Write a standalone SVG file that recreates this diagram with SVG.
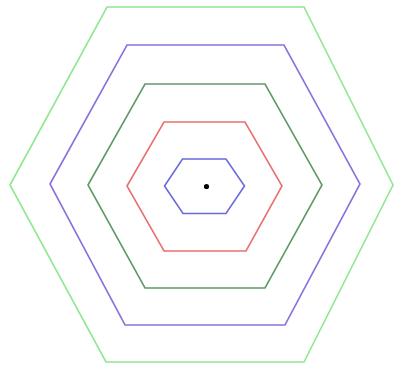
<svg xmlns="http://www.w3.org/2000/svg" width="396" height="372" viewBox="0 0 396 372">
<style>
.h{fill:none;stroke-width:1.6;stroke-linejoin:miter}
</style>
<rect width="396" height="372" fill="#ffffff"/>
<g id="hex5"><polygon class="h" stroke="#8ee88e" points="10,185 107,7 304,7 393,185 304,362 106,362"/></g>
<g id="hex4"><polygon class="h" stroke="#8c70dc" points="50,184 127,45 284,45 360,184 285,325 125,325"/></g>
<g id="hex3"><polygon class="h" stroke="#5e9a66" points="88,185 145,84 265,84 322,185 265,288 145,288"/></g>
<g id="hex2"><polygon class="h" stroke="#e87070" points="127,186 164,122 245,122 282,186 246,251 164,251"/></g>
<g id="hex1"><polygon class="h" stroke="#6a6adc" points="164.5,186 182.5,159 226,159 244.5,186 226,213.5 183,213.5"/></g>
<g id="center"><circle cx="206.5" cy="186.5" r="2.6" fill="#000"/></g>
</svg>
